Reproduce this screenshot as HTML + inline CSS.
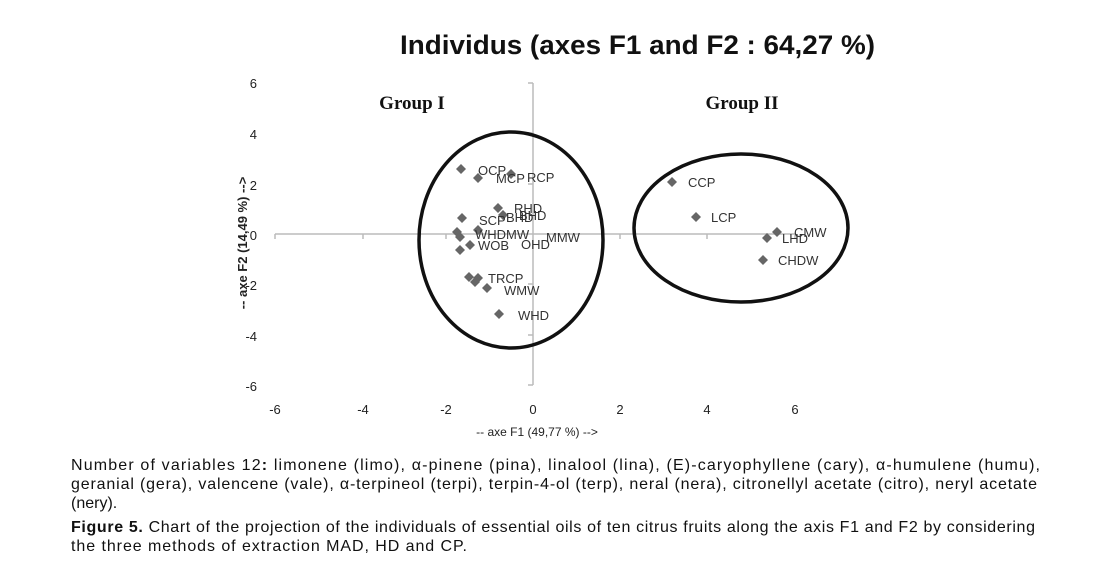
<!DOCTYPE html>
<html><head><meta charset="utf-8"><style>
body{margin:0;background:#fff;width:1111px;height:569px;overflow:hidden;position:relative;font-family:"Liberation Sans",Arial,sans-serif}
</style></head><body>
<svg width="1111" height="569" style="position:absolute;left:0;top:0" font-family="Liberation Sans, sans-serif">
<text x="400" y="54" textLength="475" lengthAdjust="spacingAndGlyphs" font-size="27" font-weight="bold" fill="#111">Individus (axes F1 and F2 : 64,27 %)</text>
<g stroke="#bbb" stroke-width="1.5" fill="none">
<line x1="533" y1="83" x2="533" y2="385"/>
<line x1="275" y1="234" x2="796" y2="234"/>
<line x1="528" y1="83" x2="533" y2="83"/><line x1="528" y1="133" x2="533" y2="133"/><line x1="528" y1="184" x2="533" y2="184"/><line x1="528" y1="284" x2="533" y2="284"/><line x1="528" y1="335" x2="533" y2="335"/><line x1="528" y1="385" x2="533" y2="385"/>
<line x1="275" y1="234" x2="275" y2="239"/><line x1="363" y1="234" x2="363" y2="239"/><line x1="446" y1="234" x2="446" y2="239"/><line x1="620" y1="234" x2="620" y2="239"/><line x1="707" y1="234" x2="707" y2="239"/><line x1="795" y1="234" x2="795" y2="239"/>
</g>
<g font-size="13" fill="#222" text-anchor="end">
<text x="257" y="88">6</text><text x="257" y="139">4</text><text x="257" y="190">2</text><text x="257" y="240">0</text><text x="257" y="290">-2</text><text x="257" y="341">-4</text><text x="257" y="391">-6</text>
</g>
<g font-size="13" fill="#222" text-anchor="middle">
<text x="275" y="414">-6</text><text x="363" y="414">-4</text><text x="446" y="414">-2</text><text x="533" y="414">0</text><text x="620" y="414">2</text><text x="707" y="414">4</text><text x="795" y="414">6</text>
</g>
<text x="537" y="436" text-anchor="middle" font-size="12" fill="#222">-- axe F1 (49,77 %) --&gt;</text>
<text transform="translate(247,243) rotate(-90)" text-anchor="middle" font-size="13" font-weight="bold" fill="#222">-- axe F2 (14,49 %) --&gt;</text>
<text x="412" y="109" text-anchor="middle" font-size="19" font-weight="bold" font-family="Liberation Serif, serif" fill="#111">Group I</text>
<text x="742" y="109" text-anchor="middle" font-size="19" font-weight="bold" font-family="Liberation Serif, serif" fill="#111">Group II</text>
<ellipse cx="511" cy="240" rx="92" ry="108" fill="none" stroke="#111" stroke-width="3.5"/>
<ellipse cx="741" cy="228" rx="107" ry="74" fill="none" stroke="#111" stroke-width="3.5"/>
<g fill="#666">
<path d="M0,-5 L5,0 L0,5 L-5,0Z" transform="translate(461,169)"/>
<path d="M0,-5 L5,0 L0,5 L-5,0Z" transform="translate(478,178)"/>
<path d="M0,-5 L5,0 L0,5 L-5,0Z" transform="translate(511,174)"/>
<path d="M0,-5 L5,0 L0,5 L-5,0Z" transform="translate(498,208)"/>
<path d="M0,-5 L5,0 L0,5 L-5,0Z" transform="translate(503,215)"/>
<path d="M0,-5 L5,0 L0,5 L-5,0Z" transform="translate(462,218)"/>
<path d="M0,-5 L5,0 L0,5 L-5,0Z" transform="translate(478,230)"/>
<path d="M0,-5 L5,0 L0,5 L-5,0Z" transform="translate(457,232)"/>
<path d="M0,-5 L5,0 L0,5 L-5,0Z" transform="translate(460,237)"/>
<path d="M0,-5 L5,0 L0,5 L-5,0Z" transform="translate(470,245)"/>
<path d="M0,-5 L5,0 L0,5 L-5,0Z" transform="translate(460,250)"/>
<path d="M0,-5 L5,0 L0,5 L-5,0Z" transform="translate(469,277)"/>
<path d="M0,-5 L5,0 L0,5 L-5,0Z" transform="translate(478,278)"/>
<path d="M0,-5 L5,0 L0,5 L-5,0Z" transform="translate(475,282)"/>
<path d="M0,-5 L5,0 L0,5 L-5,0Z" transform="translate(487,288)"/>
<path d="M0,-5 L5,0 L0,5 L-5,0Z" transform="translate(499,314)"/>
<path d="M0,-5 L5,0 L0,5 L-5,0Z" transform="translate(672,182)"/>
<path d="M0,-5 L5,0 L0,5 L-5,0Z" transform="translate(696,217)"/>
<path d="M0,-5 L5,0 L0,5 L-5,0Z" transform="translate(767,238)"/>
<path d="M0,-5 L5,0 L0,5 L-5,0Z" transform="translate(777,232)"/>
<path d="M0,-5 L5,0 L0,5 L-5,0Z" transform="translate(763,260)"/>
</g>
<g font-size="13" fill="#333">
<text x="478" y="175">OCP</text><text x="496" y="183">MCP</text><text x="527" y="182">RCP</text>
<text x="514" y="213">RHD</text><text x="519" y="220">BHD</text><text x="479" y="225">SCP</text><text x="506" y="222">BHD</text>
<text x="475" y="239">WHDMW</text><text x="546" y="242">MMW</text><text x="478" y="250">WOB</text><text x="521" y="249">OHD</text>
<text x="488" y="283">TRCP</text><text x="504" y="295">WMW</text><text x="518" y="320">WHD</text>
<text x="688" y="187">CCP</text><text x="711" y="222">LCP</text><text x="782" y="243">LHD</text><text x="794" y="237">CMW</text><text x="778" y="265">CHDW</text>
</g>
<g font-size="16" fill="#111">
<text x="71" y="470" textLength="969" lengthAdjust="spacing">Number of variables 12<tspan font-weight="bold">:</tspan> limonene (limo), α-pinene (pina), linalool (lina), (E)-caryophyllene (cary), α-humulene (humu),</text>
<text x="71" y="489" textLength="966" lengthAdjust="spacing">geranial (gera), valencene (vale), α-terpineol (terpi), terpin-4-ol (terp), neral (nera), citronellyl acetate (citro), neryl acetate</text>
<text x="71" y="508">(nery).</text>
<text x="71" y="532" textLength="964" lengthAdjust="spacing"><tspan font-weight="bold">Figure 5.</tspan> Chart of the projection of the individuals of essential oils of ten citrus fruits along the axis F1 and F2 by considering</text>
<text x="71" y="551" textLength="396" lengthAdjust="spacing">the three methods of extraction MAD, HD and CP.</text>
</g>
</svg>
</body></html>
